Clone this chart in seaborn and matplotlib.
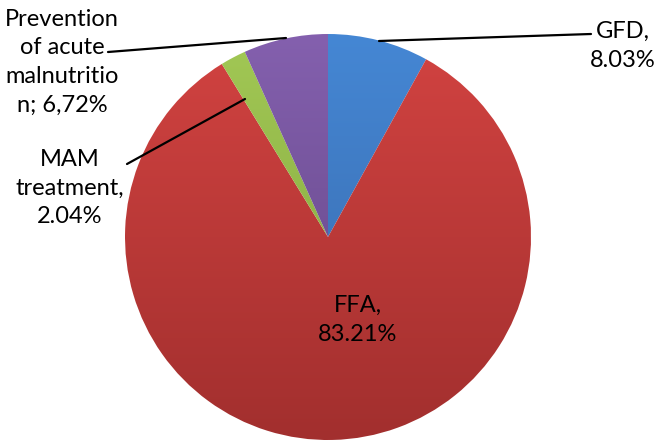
import numpy as np
import matplotlib.pyplot as plt
import seaborn as sns
from matplotlib.colors import LinearSegmentedColormap

# data, clockwise from 12 o'clock
categories = ["GFD", "FFA", "MAM treatment", "Prevention of acute malnutrition"]
shares = [8.03, 83.21, 2.04, 6.72]
label_texts = ["GFD,\n8.03%", "FFA,\n83.21%", "MAM\ntreatment,\n2.04%",
               "Prevention\nof acute\nmalnutritio\nn; 6,72%"]

# (light top, dark bottom) per slice
shades = [("#4587d4", "#3767a8"), ("#d24341", "#a22f2e"),
          ("#a2c855", "#7fa23b"), ("#8460ae", "#5f4382")]

sns.set_style("white")
plt.rcParams["font.family"] = ["Lato", "DejaVu Sans"]

W, H = 659, 447
fig = plt.figure(figsize=(W / 100, H / 100), dpi=100)
ax = fig.add_axes([0, 0, 1, 1])

cx, cy, r = 328, H - 237, 203
wedges, _ = ax.pie(shares, startangle=90, counterclock=False,
                   center=(cx, cy), radius=r, frame=True,
                   colors=[s[0] for s in shades],
                   wedgeprops=dict(linewidth=0))

# vertical gradient shading inside each wedge
grad = np.linspace(0, 1, 256).reshape(-1, 1)
for w, (top, bot) in zip(wedges, shades):
    cmap = LinearSegmentedColormap.from_list("g", [bot, top])
    im = ax.imshow(grad, cmap=cmap, origin="lower", aspect="auto",
                   extent=(cx - r, cx + r, cy - r, cy + r), zorder=w.get_zorder())
    im.set_clip_path(w)
    w.set_alpha(0)

ax.set_xlim(0, W)
ax.set_ylim(0, H)
ax.set_aspect("equal")
ax.axis("off")

fs = 17
# leader lines
leaders = [((379, 41), (591, 34)), ((108, 52), (286, 38)), ((127, 164), (245, 99))]
for (x0, y0), (x1, y1) in leaders:
    ax.plot([x0, x1], [H - y0, H - y1], color="black", lw=1.6, zorder=5)

pos = [(623, 46), (358, 320), (70, 188), (62, 62)]
for txt, (x, y) in zip(label_texts, pos):
    ax.text(x, H - y, txt, ha="center", va="center", fontsize=fs,
            linespacing=1.45, color="black", zorder=6)

fig.savefig("out.png", dpi=100, facecolor="white")
